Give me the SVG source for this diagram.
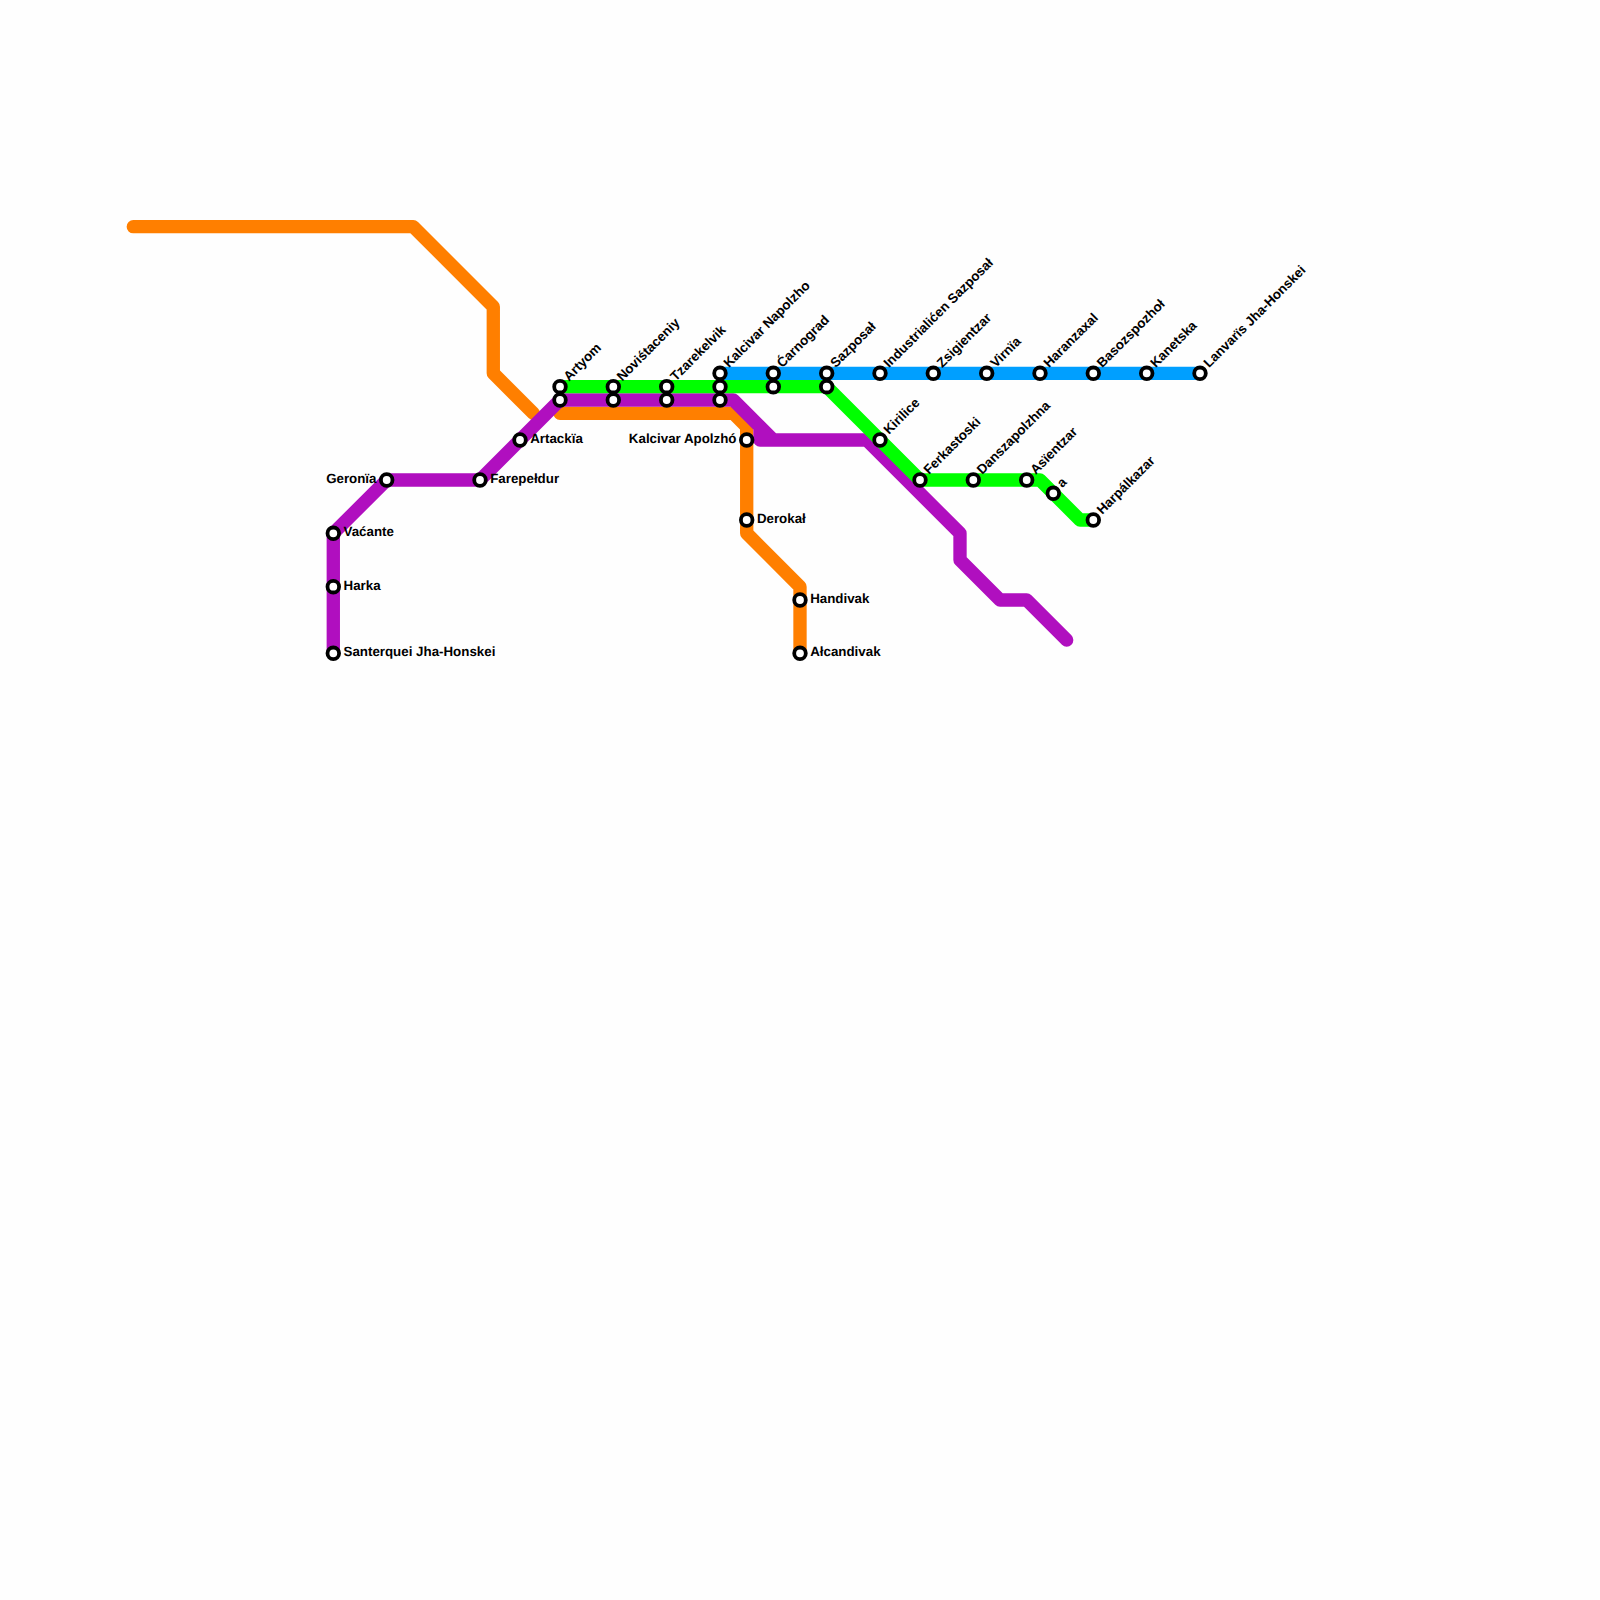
<svg xmlns="http://www.w3.org/2000/svg" width="1600" height="1600" viewBox="0 0 1600 1600">
<style>
.l{fill:none;stroke-width:13.33;stroke-linecap:round;stroke-linejoin:round}
.s{fill:#fff;stroke:#000;stroke-width:3.8}
text{font-family:"Liberation Sans",Arial,sans-serif;font-weight:bold;font-size:13.33px;fill:#000;text-rendering:geometricPrecision}
.m{text-anchor:end}
</style>
<defs><circle id="st" class="s" r="5.8"/></defs>
<rect width="1600" height="1600" fill="#fefefe"/>
<g id="connectors">
<path class="l" stroke="#ff7f00" d="M133.3 226.7H413.3L493.3 306.7V373.3L533.3 413.3"/>
<path class="l" stroke="#ff7f00" d="M560 413.3H733.3L746.7 426.7V533.3L800 586.7V653.3"/>
<path class="l" stroke="#009fff" d="M720 373.3H1200"/>
<path class="l" stroke="#b00fbf" d="M333.3 653.3V533.3L386.7 480H480L560 400H733.3L773.3 440H760V428V440H866.7L960 533.3V560L1000 600H1026.7L1066.7 640"/>
<path class="l" stroke="#00ff00" d="M560 386.7H826.7L920 480H1040L1080 520H1093.3"/>
</g>
<g id="n-vacante"><use href="#st" x="333.3" y="533.3"/><text x="343.5" y="536.3">Vaćante</text></g>
<g id="n-harka"><use href="#st" x="333.3" y="586.7"/><text x="343.5" y="589.7">Harka</text></g>
<g id="n-santerquei"><use href="#st" x="333.3" y="653.3"/><text x="343.5" y="656.3">Santerquei Jha-Honskei</text></g>
<g id="n-geronia"><use href="#st" x="386.7" y="480"/><text class="m" x="376.5" y="483">Geronïa</text></g>
<g id="n-farepeldur"><use href="#st" x="480" y="480"/><text x="490.2" y="483">Farepełdur</text></g>
<g id="n-artackia"><use href="#st" x="520" y="440"/><text x="530.2" y="443">Artackïa</text></g>
<g id="n-artyom"><use href="#st" x="560" y="386.7"/><use href="#st" x="560" y="400"/><text transform="translate(569 381.7) rotate(-45)">Artyom</text></g>
<g id="n-novistaceniy"><use href="#st" x="613.3" y="386.7"/><use href="#st" x="613.3" y="400"/><text transform="translate(622.3 381.7) rotate(-45)">Noviśtaceniy</text></g>
<g id="n-tzarekelvik"><use href="#st" x="666.7" y="386.7"/><use href="#st" x="666.7" y="400"/><text transform="translate(675.7 381.7) rotate(-45)">Tzarekelvik</text></g>
<g id="n-kalcivar-napolzho"><use href="#st" x="720" y="373.3"/><use href="#st" x="720" y="386.7"/><use href="#st" x="720" y="400"/><text transform="translate(729 368.3) rotate(-45)">Kalcivar Napolzho</text></g>
<g id="n-carnograd"><use href="#st" x="773.3" y="373.3"/><use href="#st" x="773.3" y="386.7"/><text transform="translate(782.3 368.3) rotate(-45)">Ćarnograd</text></g>
<g id="n-sazposal"><use href="#st" x="826.7" y="373.3"/><use href="#st" x="826.7" y="386.7"/><text transform="translate(835.7 368.3) rotate(-45)">Sazposał</text></g>
<g id="n-industrial"><use href="#st" x="880" y="373.3"/><text transform="translate(889 368.3) rotate(-45)">Industrialićen Sazposał</text></g>
<g id="n-zsigientzar"><use href="#st" x="933.3" y="373.3"/><text transform="translate(942.3 368.3) rotate(-45)">Zsigientzar</text></g>
<g id="n-virnia"><use href="#st" x="986.7" y="373.3"/><text transform="translate(995.7 368.3) rotate(-45)">Virnïa</text></g>
<g id="n-haranzaxal"><use href="#st" x="1040" y="373.3"/><text transform="translate(1049 368.3) rotate(-45)">Haranzaxal</text></g>
<g id="n-basozspozhol"><use href="#st" x="1093.3" y="373.3"/><text transform="translate(1102.3 368.3) rotate(-45)">Basozspozhoł</text></g>
<g id="n-kanetska"><use href="#st" x="1146.7" y="373.3"/><text transform="translate(1155.7 368.3) rotate(-45)">Kanetska</text></g>
<g id="n-lanvaris"><use href="#st" x="1200" y="373.3"/><text transform="translate(1209 368.3) rotate(-45)">Lanvarïs Jha-Honskei</text></g>
<g id="n-kirilice"><use href="#st" x="880" y="440"/><text transform="translate(889 435) rotate(-45)">Kirilice</text></g>
<g id="n-ferkastoski"><use href="#st" x="920" y="480"/><text transform="translate(929 475) rotate(-45)">Ferkastoski</text></g>
<g id="n-danszapolzhna"><use href="#st" x="973.3" y="480"/><text transform="translate(982.3 475) rotate(-45)">Danszapolzhna</text></g>
<g id="n-asientzar"><use href="#st" x="1026.7" y="480"/><text transform="translate(1035.7 475) rotate(-45)">Asïentzar</text></g>
<g id="n-a"><use href="#st" x="1053.3" y="493.3"/><text transform="translate(1062.3 488.3) rotate(-45)">a</text></g>
<g id="n-harpalkazar"><use href="#st" x="1093.3" y="520"/><text transform="translate(1102.3 515) rotate(-45)">Harpálkazar</text></g>
<g id="n-kalcivar-apolzho"><use href="#st" x="746.7" y="440"/><text class="m" x="736.5" y="443">Kalcivar Apolzhó</text></g>
<g id="n-derokal"><use href="#st" x="746.7" y="520"/><text x="756.9" y="523">Derokał</text></g>
<g id="n-handivak"><use href="#st" x="800" y="600"/><text x="810.2" y="603">Handivak</text></g>
<g id="n-alcandivak"><use href="#st" x="800" y="653.3"/><text x="810.2" y="656.3">Ałcandivak</text></g>
</svg>
